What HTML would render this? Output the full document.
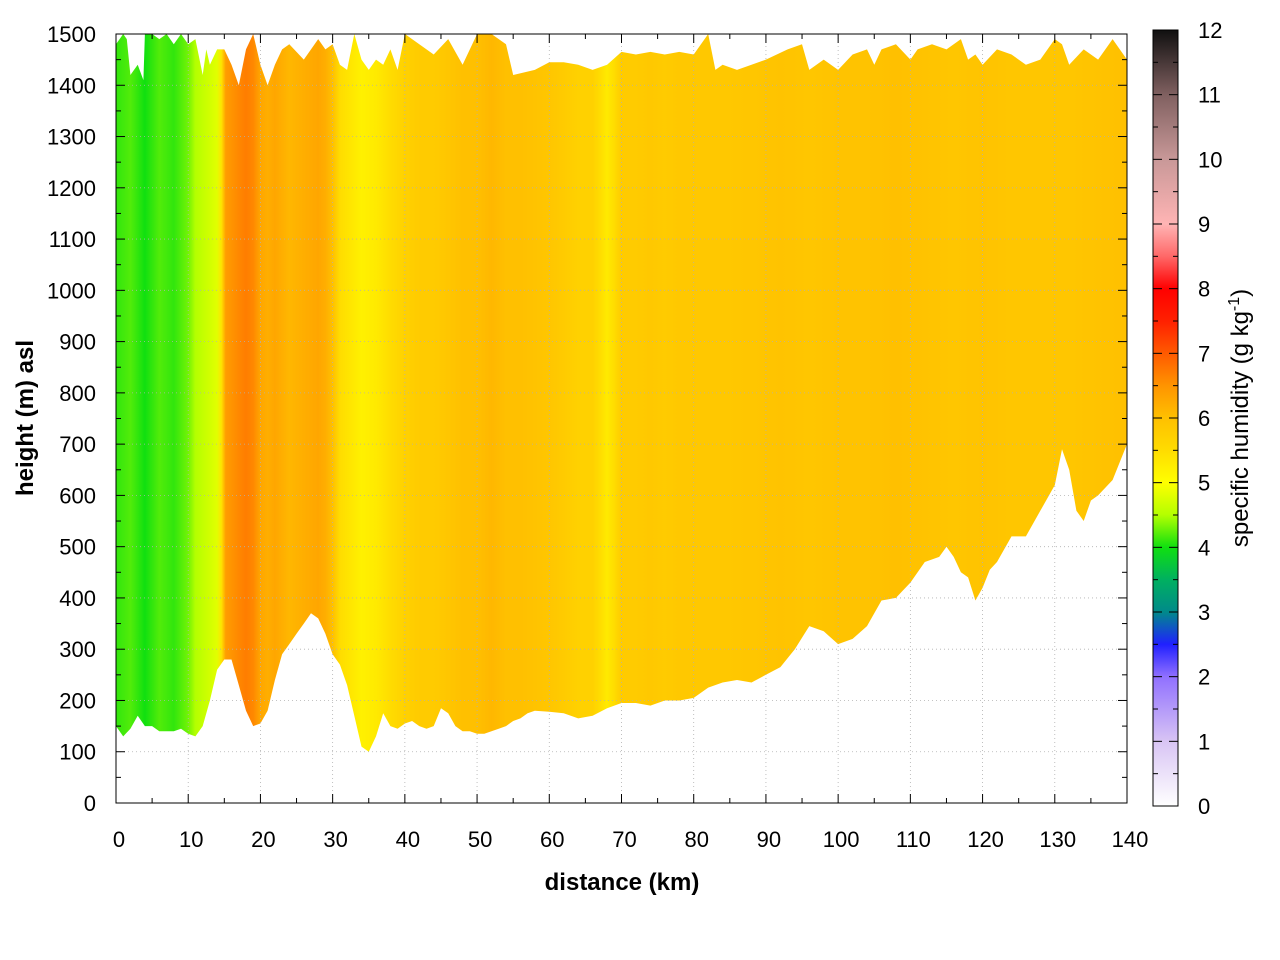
<!DOCTYPE html>
<html><head><meta charset="utf-8"><style>
html,body{margin:0;padding:0;background:#fff;}
svg{display:block;font-family:"Liberation Sans",sans-serif;}
</style></head><body>
<svg id="chart" width="1280" height="960" xmlns="http://www.w3.org/2000/svg"></svg>
<script>
// ---- data ----
const qDist = [0,2,4,6,8,10,11,12,13,14,14.6,15.2,16,17,18,19,20,21,22,24,26,28,29,30,31,32,34,36,38,40,42,44,46,48,50,52,54,56,58,60,62,64,66,67,68,69,70,72,74,76,78,80,84,88,92,96,100,104,108,112,116,120,124,128,132,136,140];
const qVals = [4.1,4.2,4.0,4.2,4.1,4.3,4.5,4.6,4.7,4.8,5.4,6.4,6.5,6.6,6.7,6.6,6.3,6.2,6.3,6.1,6.2,6.3,6.2,6.0,5.5,5.4,5.2,5.3,5.5,5.7,5.8,5.8,5.9,6.0,6.0,6.1,6.0,6.0,5.95,5.9,5.8,5.7,5.7,5.5,5.3,5.5,5.8,5.8,5.85,5.8,5.85,5.85,5.85,5.9,5.95,5.9,5.95,5.95,6.0,5.95,5.9,5.95,5.9,5.9,5.9,5.95,6.0];
const botDist = [0,1,2,3,4,5,6,7,8,9,10,11,12,13,14,15,16,17,18,19,20,21,22,23,24,25,26,27,28,29,30,31,32,33,34,35,36,37,38,39,40,41,42,43,44,45,46,47,48,49,50,51,52,53,54,55,56,57,58,60,62,64,66,68,70,72,74,76,78,80,82,84,86,88,90,92,94,96,98,100,102,104,106,108,110,112,114,115,116,117,118,119,120,121,122,124,126,128,130,131,132,133,134,135,136,138,140];
const botH = [150,130,145,170,150,150,140,140,140,145,135,130,150,200,260,280,280,230,180,150,155,180,240,290,310,330,350,370,360,330,290,270,230,170,110,100,130,175,150,145,155,160,150,145,150,185,175,150,140,140,135,135,140,145,150,160,165,175,180,178,175,165,170,185,195,195,190,200,200,205,225,235,240,235,250,265,300,345,335,310,320,345,395,400,430,470,480,500,480,450,440,395,420,455,470,520,520,570,620,690,650,570,550,590,600,630,700];
const topDist = [0,1,1.5,2,3,3.8,4,5,6,7,8,9,10,11,12,12.5,13,14,15,16,17,18,19,20,21,22,23,24,26,28,29,30,31,32,33,34,35,36,37,38,39,40,42,44,46,48,50,52,54,55,58,60,62,64,66,68,70,72,74,76,78,80,82,83,84,86,88,90,93,95,96,98,100,102,104,105,106,108,110,111,113,115,117,118,119,120,122,124,126,128,130,131,132,134,136,138,140];
const topH = [1480,1500,1490,1420,1440,1410,1500,1500,1490,1500,1480,1500,1480,1490,1420,1470,1440,1470,1470,1440,1400,1470,1500,1440,1400,1440,1470,1480,1450,1490,1470,1480,1440,1430,1500,1450,1430,1450,1440,1470,1430,1500,1480,1460,1490,1440,1500,1500,1480,1420,1430,1445,1445,1440,1430,1440,1465,1460,1465,1460,1465,1460,1500,1430,1440,1430,1440,1450,1470,1480,1430,1450,1430,1460,1470,1440,1470,1480,1450,1470,1480,1470,1490,1450,1460,1440,1470,1460,1440,1450,1490,1480,1440,1470,1450,1490,1450];
const xTicks = [0,10,20,30,40,50,60,70,80,90,100,110,120,130,140];
const yTicks = [0,100,200,300,400,500,600,700,800,900,1000,1100,1200,1300,1400,1500];
const cTicks = [0,1,2,3,4,5,6,7,8,9,10,11,12];
const cmapV = [0,1,2,2.5,3,3.5,4,4.5,5,5.5,6,6.5,7,7.5,8,8.5,9,10,11,12];
const cmapC = ['#ffffff','#d8c4f4','#9070ff','#2020ff','#008a8a','#00b060','#10e010','#b4ff00','#ffff00','#ffdc00','#ffc000','#ff9400','#ff5a00','#ff2000','#ff0000','#ff6868','#ffb4b4','#c89898','#806060','#101010'];

// ---- geometry ----
const L=116,R=1127,T=34,B=803;
const X=d=>L+(d/140)*(R-L);
const Y=h=>B-(h/1500)*(B-T);
const CL=1153,CR=1178,CT=30,CB=806;
const CY=v=>CB-(v/12)*(CB-CT);
const NS='http://www.w3.org/2000/svg';
const svg=document.getElementById('chart');
function mk(tag,attrs,parent){const e=document.createElementNS(NS,tag);for(const k in attrs)e.setAttribute(k,attrs[k]);(parent||svg).appendChild(e);return e;}
function hex(c){return [1,3,5].map(i=>parseInt(c.substr(i,2),16));}
function cmap(v){
  for(let i=0;i<cmapV.length-1;i++){ if(v<=cmapV[i+1]){const t=(v-cmapV[i])/(cmapV[i+1]-cmapV[i]);const a=hex(cmapC[i]),b=hex(cmapC[i+1]);return 'rgb('+a.map((x,j)=>Math.round(x+(b[j]-x)*t)).join(',')+')';}}
  return cmapC[cmapC.length-1];
}
const defs=mk('defs',{});
const g=mk('linearGradient',{id:'fieldGrad',x1:X(0),x2:X(140),y1:0,y2:0,gradientUnits:'userSpaceOnUse'},defs);
qDist.forEach((d,i)=>mk('stop',{offset:(d/140),'stop-color':cmap(qVals[i])},g));
const cg=mk('linearGradient',{id:'cbGrad',x1:0,x2:0,y1:CB,y2:CT,gradientUnits:'userSpaceOnUse'},defs);
cmapV.forEach((v,i)=>mk('stop',{offset:v/12,'stop-color':cmapC[i]},cg));

// field polygon
let pts=[];
topDist.forEach((d,i)=>pts.push(X(d).toFixed(1)+','+Y(topH[i]).toFixed(1)));
for(let i=botDist.length-1;i>=0;i--)pts.push(X(botDist[i]).toFixed(1)+','+Y(botH[i]).toFixed(1));
const field=mk('polygon',{points:pts.join(' '),fill:'url(#fieldGrad)'});



// grid
const grid=mk('g',{stroke:'#b0b0b0','stroke-width':0.8,'stroke-dasharray':'1,3'});


xTicks.slice(1,-1).forEach(t=>mk('line',{x1:X(t),x2:X(t),y1:T,y2:B},grid));
yTicks.slice(1,-1).forEach(t=>mk('line',{x1:L,x2:R,y1:Y(t),y2:Y(t)},grid));

// frame & ticks
const fr=mk('rect',{x:L,y:T,width:R-L,height:B-T,fill:'none',stroke:'#000','stroke-width':1});


const tk=mk('g',{stroke:'#000','stroke-width':1});
for(let d=0;d<=140;d+=5){const len=d%10===0?9:5;mk('line',{x1:X(d),x2:X(d),y1:B,y2:B-len},tk);mk('line',{x1:X(d),x2:X(d),y1:T,y2:T+len},tk);}
for(let h=0;h<=1500;h+=50){const len=h%100===0?9:5;mk('line',{x1:L,x2:L+len,y1:Y(h),y2:Y(h)},tk);mk('line',{x1:R,x2:R-len,y1:Y(h),y2:Y(h)},tk);}

const xl=mk('g',{'font-size':22,'text-anchor':'middle',fill:'#000'});


xTicks.forEach(t=>{const e=mk('text',{x:X(t)+3,y:847},xl);e.textContent=t;});
const yl=mk('g',{'font-size':22,'text-anchor':'end',fill:'#000'});


yTicks.forEach(t=>{const e=mk('text',{x:96,y:Y(t)+8},yl);e.textContent=t;});

const xt=mk('text',{x:622,y:890,'font-size':24,'font-weight':'bold','text-anchor':'middle'});
xt.textContent='distance (km)';


const yt=mk('text',{x:0,y:0,'font-size':24,'font-weight':'bold','text-anchor':'middle',transform:'translate(33,418) rotate(-90)'});
yt.textContent='height (m) asl';



// colorbar
const cb=mk('rect',{x:CL,y:CT,width:CR-CL,height:CB-CT,fill:'url(#cbGrad)',stroke:'#000','stroke-width':1});


const ctk=mk('g',{stroke:'#000','stroke-width':1});
for(let v=0;v<=12;v+=0.5){const len=v%1===0?9:5;mk('line',{x1:CL,x2:CL+len,y1:CY(v),y2:CY(v)},ctk);mk('line',{x1:CR,x2:CR-len,y1:CY(v),y2:CY(v)},ctk);}
const cl=mk('g',{'font-size':22,'text-anchor':'start',fill:'#000'});


cTicks.forEach(t=>{const e=mk('text',{x:1198,y:CY(t)+8},cl);e.textContent=t;});
const ct=mk('text',{x:0,y:0,'font-size':24,'text-anchor':'middle',transform:'translate(1248,418) rotate(-90)'});
ct.innerHTML='specific humidity (g kg<tspan dy="-9" font-size="16">-1</tspan><tspan dy="9">)</tspan>';


</script>
</body></html>
